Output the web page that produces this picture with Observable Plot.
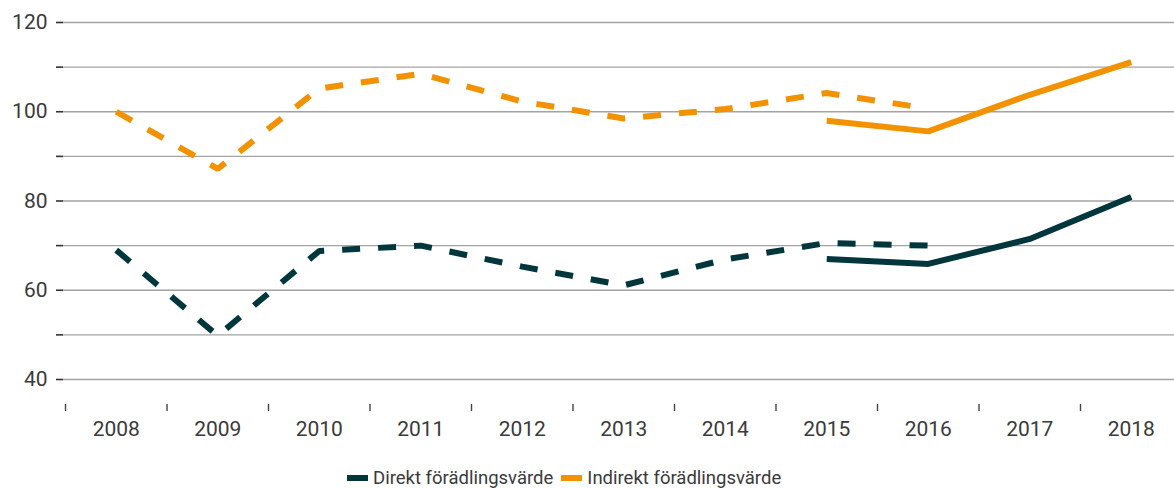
<!DOCTYPE html>
<html>
<head>
<meta charset="utf-8">
<script src="https://cdn.jsdelivr.net/npm/d3@7"></script>
<script src="https://cdn.jsdelivr.net/npm/@observablehq/plot@0.6"></script>
<style>
  html, body { margin: 0; padding: 0; background: #fff; overflow: hidden; }
  body { width: 1174px; height: 488px; font-family: Roboto, "Liberation Sans", sans-serif; }
  #legend { display: flex; align-items: center; height: 24px; line-height: 24px; font-size: 18.5px; color: #3a3a3a; padding-left: 347px; }
  #legend .item { display: flex; align-items: center; margin-right: 8px; }
  #legend .sw { width: 21px; height: 6px; margin-right: 5px; }
</style>
</head>
<body>
<div id="chart"></div>
<div id="legend"></div>
<script>
const years = ["2008","2009","2010","2011","2012","2013","2014","2015","2016","2017","2018"];
const seriesNames = ["Direkt förädlingsvärde", "Indirekt förädlingsvärde"];
const seriesColors = ["#00363c", "#f39200"];
// older series (dashed), 2008–2016
const direktOld   = [69.0, 49.8, 68.8, 70.0, 65.3, 61.1, 66.9, 70.6, 70.0, null, null];
const indirektOld = [100.0, 87.2, 105.2, 108.5, 102.3, 98.5, 100.6, 104.2, 100.7, null, null];
// newer series (solid), 2015–2018
const direktNew   = [null, null, null, null, null, null, null, 67.0, 65.9, 71.5, 80.9];
const indirektNew = [null, null, null, null, null, null, null, 98.0, 95.6, 103.8, 111.1];
const yTicks = [40, 50, 60, 70, 80, 90, 100, 110, 120];

const rows = [];
years.forEach((yr, i) => {
  rows.push({year: yr, value: direktOld[i], series: seriesNames[0], kind: "old"});
  rows.push({year: yr, value: indirektOld[i], series: seriesNames[1], kind: "old"});
  rows.push({year: yr, value: direktNew[i], series: seriesNames[0], kind: "new"});
  rows.push({year: yr, value: indirektNew[i], series: seriesNames[1], kind: "new"});
});
const oldRows = rows.filter(d => d.kind === "old");
const newRows = rows.filter(d => d.kind === "new");

const W = 1174, H = 466;
const xRange = [65, 1181.5];
const step = (xRange[1] - xRange[0]) / years.length;
const fontFam = "Roboto, 'Liberation Sans', sans-serif";

const chart = Plot.plot({
  width: W,
  height: H,
  marginLeft: 63,
  marginRight: 0,
  marginTop: 22,
  marginBottom: H - 379,
  style: {fontFamily: fontFam, fontSize: "21px", color: "#3a3a3a", background: "#fff"},
  x: {type: "band", domain: years, range: xRange, padding: 0, round: false},
  y: {domain: [40, 120]},
  color: {domain: seriesNames, range: seriesColors},
  marks: [
    Plot.ruleY(yTicks, {stroke: "#a3a3a3", strokeWidth: 1.4}),
    Plot.axisY({ticks: yTicks, tickSize: 7, tickPadding: 9, stroke: "#333", strokeWidth: 1.6, label: null,
      tickFormat: d => (d % 20 === 0 ? String(d) : ""), fill: "#3a3a3a", fontSize: 21}),
    Plot.axisX({tickSize: 7, dy: 25, dx: -step / 2, tickFormat: () => "", label: null, stroke: "#444", strokeWidth: 1.4}),
    Plot.axisX({tickSize: 0, tickPadding: 42, label: null, fill: "#3a3a3a", fontSize: 21}),
    Plot.line(oldRows, {x: "year", y: "value", z: "series", stroke: "series", strokeWidth: 6,
      strokeDasharray: "18,18", strokeLinecap: "butt", strokeLinejoin: "miter"}),
    Plot.line(newRows, {x: "year", y: "value", z: "series", stroke: "series", strokeWidth: 6,
      strokeLinecap: "butt", strokeLinejoin: "miter"})
  ]
});
document.getElementById("chart").appendChild(chart);

const legend = document.getElementById("legend");
seriesNames.forEach((name, i) => {
  const item = document.createElement("div");
  item.className = "item";
  const sw = document.createElement("span");
  sw.className = "sw";
  sw.style.background = seriesColors[i];
  const label = document.createElement("span");
  label.textContent = name;
  item.appendChild(sw);
  item.appendChild(label);
  legend.appendChild(item);
});
</script>
</body>
</html>
